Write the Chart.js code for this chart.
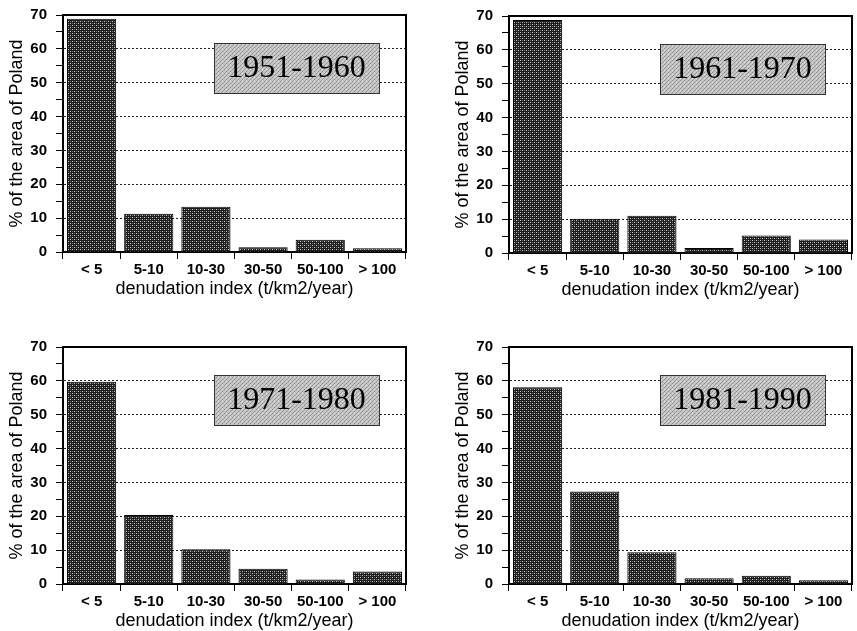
<!DOCTYPE html>
<html>
<head>
<meta charset="utf-8">
<script src="https://cdn.jsdelivr.net/npm/chart.js@4"></script>
<style>
  body { margin: 0; background: #fff; width: 857px; height: 631px; position: relative; overflow: hidden; }
  canvas { position: absolute; }
</style>
</head>
<body>
<canvas id="chart1951" width="411" height="303" style="left:0;top:-3px"></canvas>
<canvas id="chart1961" width="411" height="303" style="left:446px;top:-2px"></canvas>
<canvas id="chart1971" width="411" height="303" style="left:0;top:329px"></canvas>
<canvas id="chart1981" width="411" height="303" style="left:446px;top:329px"></canvas>
<script>
// data
const categories = ['< 5', '5-10', '10-30', '30-50', '50-100', '> 100'];
const periods = ['1951-1960', '1961-1970', '1971-1980', '1981-1990'];
const values1951 = [68.9, 11.3, 13.4, 1.4, 3.6, 1.1];
const values1961 = [68.8, 10.1, 11.0, 1.5, 5.2, 4.0];
const values1971 = [59.7, 20.4, 10.3, 4.5, 1.3, 3.7];
const values1981 = [58.1, 27.3, 9.4, 1.7, 2.4, 1.1];
const yMin = 0, yMax = 70, yStep = 5, yLabelStep = 10;
const yTitle = '% of the area of Poland';
const xTitle = 'denudation index (t/km2/year)';

// dithered fills like the scanned print
function makePattern(base, dots) {
  const c = document.createElement('canvas');
  c.width = 4; c.height = 4;
  const g = c.getContext('2d');
  g.fillStyle = base;
  g.fillRect(0, 0, 4, 4);
  dots.forEach(d => { g.fillStyle = d[2]; g.fillRect(d[0], d[1], 1, 1); });
  return g.createPattern(c, 'repeat');
}
const barFill = makePattern('#1e1e1e', [[0, 0, '#c8c8c8'], [2, 2, '#c8c8c8'], [2, 0, '#6e6e6e'], [0, 2, '#6e6e6e']]);
const boxFill = makePattern('#c6c6c6', [[0, 0, '#8a8a8a'], [2, 2, '#8a8a8a'], [1, 3, '#a0a0a0'], [3, 1, '#a0a0a0'], [2, 0, '#e0e0e0']]);

const sansBold = { family: "'Liberation Sans', Arial, sans-serif", size: 15, weight: 'bold' };
const sans = { family: "'Liberation Sans', Arial, sans-serif", size: 18 };

// label box with the period, and the closing frame (top + right)
const periodBox = {
  id: 'periodBox',
  afterDatasetsDraw(chart, args, opts) {
    const { ctx, chartArea } = chart;
    const x = chartArea.left + 151, y = chartArea.top + 28, w = 165, h = 50;
    ctx.save();
    ctx.fillStyle = boxFill;
    ctx.fillRect(x, y, w, h);
    ctx.strokeStyle = '#333';
    ctx.lineWidth = 1;
    ctx.strokeRect(x + 0.5, y + 0.5, w, h);
    ctx.fillStyle = '#000';
    ctx.font = "32px 'Liberation Serif', 'Times New Roman', serif";
    ctx.textAlign = 'center';
    ctx.textBaseline = 'middle';
    ctx.fillText(opts.text, x + w / 2, y + h / 2 + 1);
    ctx.restore();
  },
  afterDraw(chart) {
    const { ctx, chartArea: a } = chart;
    ctx.save();
    ctx.strokeStyle = '#000';
    ctx.lineWidth = 2;
    ctx.beginPath();
    ctx.moveTo(a.left, a.top);
    ctx.lineTo(a.right, a.top);
    ctx.lineTo(a.right, a.bottom);
    ctx.stroke();
    ctx.restore();
  }
};

function makeChart(id, values, period) {
  return new Chart(document.getElementById(id), {
    type: 'bar',
    data: {
      labels: categories,
      datasets: [{
        data: values,
        backgroundColor: barFill,
        borderColor: '#000',
        borderWidth: 1,
        barPercentage: 0.86,
        categoryPercentage: 1
      }]
    },
    options: {
      responsive: false,
      animation: false,
      layout: { padding: { top: 18, right: 5, bottom: 0, left: 0 } },
      plugins: {
        legend: { display: false },
        tooltip: { enabled: false },
        periodBox: { text: period }
      },
      scales: {
        x: {
          afterFit: s => { s.height = 48; },
          grid: {
            offset: true,
            drawOnChartArea: false,
            tickLength: 7,
            tickColor: '#000',
            tickWidth: 1
          },
          border: { color: '#000', width: 2 },
          ticks: { color: '#000', font: sansBold, padding: 2, maxRotation: 0 },
          title: { display: true, text: xTitle, color: '#000', font: sans, padding: { top: 0, bottom: 0 } }
        },
        y: {
          min: yMin,
          max: yMax,
          afterFit: s => { s.width = 63; },
          grid: {
            color: c => (c.tick && c.tick.value % yLabelStep === 0 && c.tick.value > yMin && c.tick.value < yMax) ? '#222' : 'rgba(0,0,0,0)',
            tickColor: '#000',
            tickLength: 7,
            lineWidth: 1
          },
          border: { color: '#000', width: 2, dash: [2, 2] },
          ticks: {
            stepSize: yStep,
            autoSkip: false,
            color: '#000',
            font: sansBold,
            padding: 9,
            callback: v => (v % yLabelStep === 0 ? v : '')
          },
          title: { display: true, text: yTitle, color: '#000', font: sans, padding: { top: 6, bottom: 0 } }
        }
      }
    },
    plugins: [periodBox]
  });
}

makeChart('chart1951', values1951, periods[0]);
makeChart('chart1961', values1961, periods[1]);
makeChart('chart1971', values1971, periods[2]);
makeChart('chart1981', values1981, periods[3]);
</script>
</body>
</html>
